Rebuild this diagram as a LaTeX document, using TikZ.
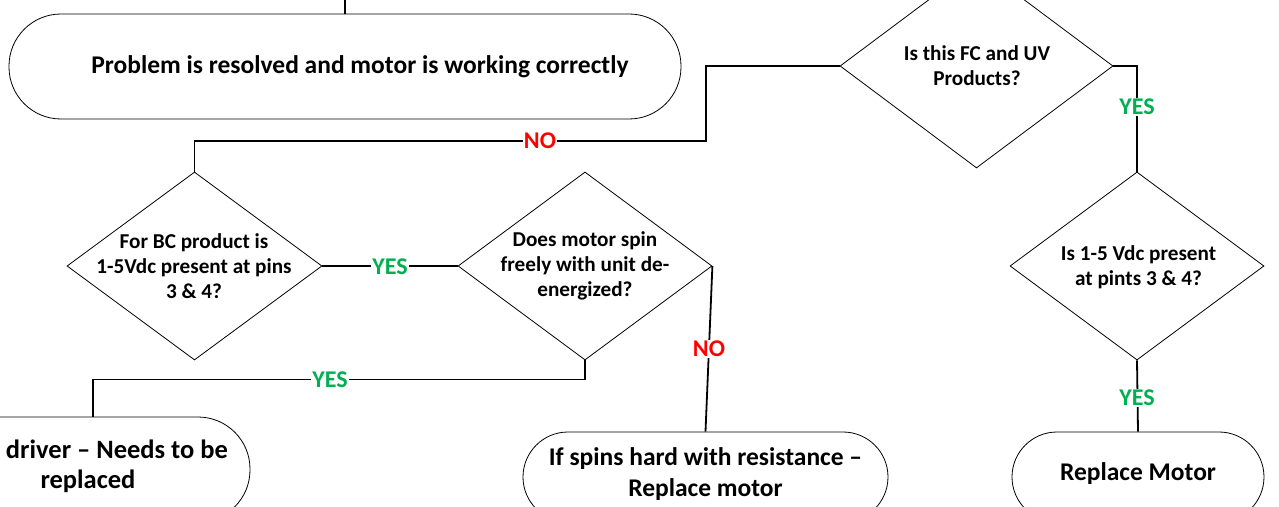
\documentclass[tikz,border=0pt]{standalone}
\usepackage{fontspec}
\setmainfont{Carlito}
\usetikzlibrary{shapes.geometric}
\definecolor{yesgreen}{RGB}{0,176,80}
\definecolor{nored}{RGB}{255,0,0}
\begin{document}
\begin{tikzpicture}[x=1bp,y=-1bp,
  term/.style={draw, line width=0.8bp, inner sep=0pt},
  dia/.style={draw, diamond, aspect=1, line width=0.8bp, inner sep=0pt},
  dtext/.style={font=\bfseries\fontsize{21.2bp}{25bp}\selectfont, align=center},
  stext/.style={font=\bfseries\fontsize{25.5bp}{31bp}\selectfont, align=center},
  conn/.style={line width=1.8bp},
  yeslbl/.style={fill=white, text=yesgreen, font=\bfseries\fontsize{24bp}{28bp}\selectfont, inner sep=1bp},
  nolbl/.style={fill=white, text=nored, font=\bfseries\fontsize{24bp}{28bp}\selectfont, inner sep=1bp}
]
\useasboundingbox (0,0) rectangle (1279,507);
\clip (0,0) rectangle (1279,507);

% terminals
\node[term, minimum width=672bp, minimum height=105bp, rounded corners=52bp] (res) at (345,66.5) {};
\node[stext] at (360,67) {Problem is resolved and motor is working correctly};

\node[term, minimum width=314bp, minimum height=105bp, rounded corners=52bp] (drv) at (93,469.5) {};
\node[stext, font=\bfseries\fontsize{26.5bp}{31bp}\selectfont] (drvt1) at (117,449) {driver – Needs to be};
\node[stext, font=\bfseries\fontsize{26.5bp}{31bp}\selectfont] (drvt2) at (88,481) {replaced};

\node[term, minimum width=365bp, minimum height=90bp, rounded corners=45bp] (spin) at (705.5,477) {};
\node[stext] at (705.5,474.5) {If spins hard with resistance –\\Replace motor};

\node[term, minimum width=252bp, minimum height=90bp, rounded corners=45bp] (rep) at (1138,477) {};
\node[stext] at (1138,474) {Replace Motor};

% decisions
\node[dia, minimum width=273bp, minimum height=204bp] (fc) at (976.5,66) {};
\node[dtext] at (977,65.5) {Is this FC and UV\\Products?};

\node[dia, minimum width=255bp, minimum height=188bp] (bc) at (194.5,266) {};
\node[dtext] at (194,266) {For BC product is\\1-5Vdc present at pins\\3 \& 4?};

\node[dia, minimum width=254bp, minimum height=188bp] (mot) at (585,266) {};
\node[dtext] at (585,266) {Does motor spin\\freely with unit de-\\energized?};

\node[dia, minimum width=254bp, minimum height=188bp] (vdc) at (1137,266) {};
\node[dtext] at (1138.5,267.5) {Is 1-5 Vdc present\\at pints 3 \& 4?};

% connectors
\coordinate (topin) at (345,0);
\draw[conn] (topin) -- (res.north);
\draw[conn] (fc.east) -| (vdc.north);
\draw[conn] (fc.west) -| (706,141) -| (bc.north);
\draw[conn] (bc.east) -- (mot.west);
\draw[conn] (mot.south) -- ++(0,19) -| (drv.north);
\draw[conn] (mot.east) -- (spin.north);
\draw[conn] (vdc.south) -- (rep.north);

% labels
\node[nolbl] (l1) at (540,141) {NO};
\node[yeslbl] (l2) at (1137,107) {YES};
\node[yeslbl] (l3) at (390,267) {YES};
\node[yeslbl] (l4) at (330,380) {YES};
\node[nolbl] (l5) at (709,349) {NO};
\node[yeslbl] (l6) at (1137,398) {YES};
\end{tikzpicture}
\end{document}
